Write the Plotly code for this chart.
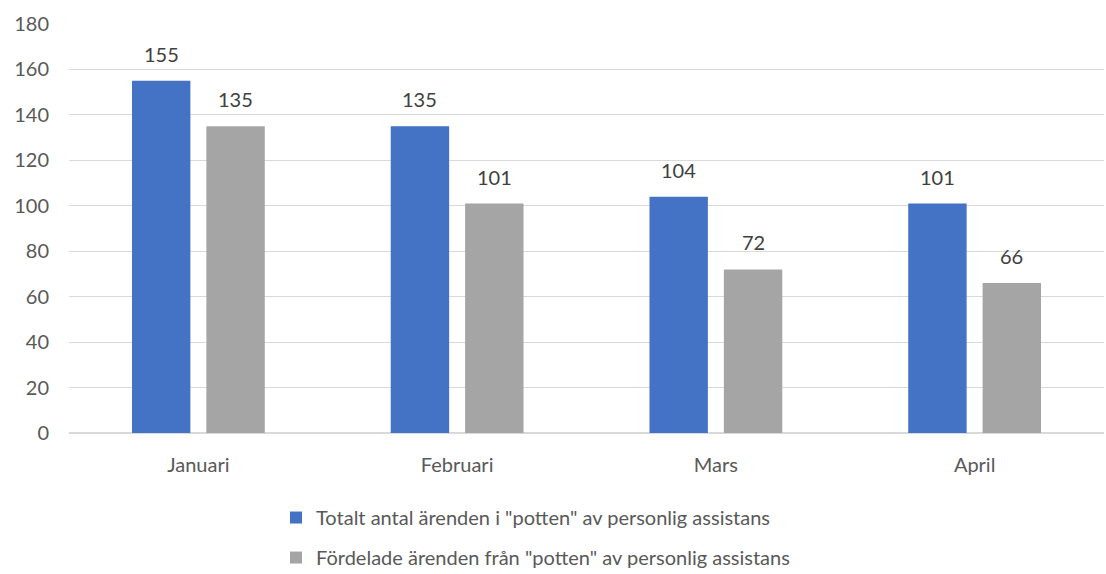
import plotly.graph_objects as go

categories = ["Januari", "Februari", "Mars", "April"]
series1_name = 'Totalt antal ärenden i "potten" av personlig assistans'
series1 = [155, 135, 104, 101]
series2_name = 'Fördelade ärenden från "potten" av personlig assistans'
series2 = [135, 101, 72, 66]
y_ticks = [0, 20, 40, 60, 80, 100, 120, 140, 160, 180]

FONT = "Lato, 'Open Sans', sans-serif"
BARGAP = 0.425
TEXT_COLOR = "#404040"
TICK_COLOR = "#595959"

fig = go.Figure()
fig.add_trace(go.Bar(
    x=categories, y=series1, name=series1_name, legendgroup="a",
    marker=dict(color="#4472C4", line=dict(width=0)),
))
fig.add_trace(go.Bar(
    x=categories, y=series2, name=series2_name, legendgroup="b",
    marker=dict(color="#A5A5A5", line=dict(width=0)),
))

# value labels above bars, positioned in data coordinates of the category axis
half = (1 - BARGAP) / 4
annotations = []
for i, (a, b) in enumerate(zip(series1, series2)):
    for off, v in ((-half, a), (half, b)):
        annotations.append(dict(
            x=i + off, y=v, xref="x", yref="y", text=str(v), showarrow=False,
            yanchor="bottom", xanchor="center", yshift=13,
            font=dict(size=20, color=TEXT_COLOR, family=FONT),
        ))

fig.update_layout(
    width=1106, height=574,
    margin=dict(l=69, r=2, t=24, b=141, autoexpand=False),
    paper_bgcolor="white", plot_bgcolor="white",
    barmode="group", bargap=BARGAP, bargroupgap=0.215,
    font=dict(family=FONT, size=20, color=TICK_COLOR),
    xaxis=dict(showline=False, ticks="", automargin=False, ticklabelstandoff=18,
               tickfont=dict(size=20, color=TICK_COLOR)),
    yaxis=dict(range=[0, 180], tickvals=y_ticks, showgrid=True, gridcolor="#D9D9D9",
               gridwidth=1, zeroline=True, zerolinecolor="#D9D9D9", ticks="",
               automargin=False, ticklabelstandoff=19,
               tickfont=dict(size=20, color=TICK_COLOR)),
    showlegend=True,
    legend=dict(orientation="v", x=0.200, xanchor="left", y=-0.159, yanchor="top",
                font=dict(size=20, color=TICK_COLOR), tracegroupgap=11,
                itemwidth=30, bgcolor="rgba(0,0,0,0)"),
    annotations=annotations,
)

fig.write_html("out.html", config={"displayModeBar": False},
               post_script="document.body.style.margin='0';")
